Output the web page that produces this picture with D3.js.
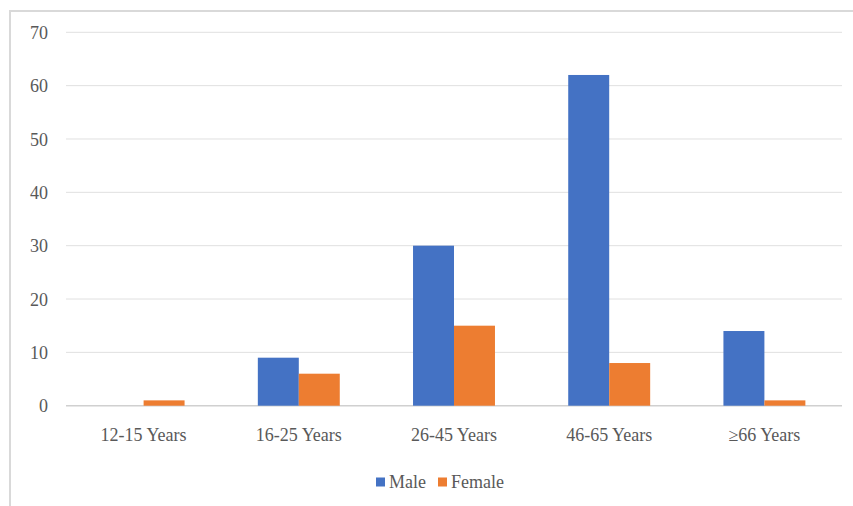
<!DOCTYPE html>
<html>
<head>
<meta charset="utf-8">
<script src="https://cdn.jsdelivr.net/npm/d3@7"></script>
<style>
  html, body { margin: 0; padding: 0; background: #fff; }
  svg { display: block; }
</style>
</head>
<body>
<svg id="chart" width="853" height="506"></svg>
<script>
// Age groups on the x axis
const categories = ["12-15 Years", "16-25 Years", "26-45 Years", "46-65 Years", "\u226566 Years"];
// Counts per sex
const maleValues = [0, 9, 30, 62, 14];
const femaleValues = [1, 6, 15, 8, 1];
const seriesNames = ["Male", "Female"];
const seriesColors = ["#4472C4", "#ED7D31"];
const yTicks = [0, 10, 20, 30, 40, 50, 60, 70];

const series = [maleValues, femaleValues];
const FONT = "'Liberation Serif'";
const TEXT_COLOR = "#595959";
const FONT_SIZE = 18;

const svg = d3.select("#chart");

// Chart area frame
svg.append("rect")
  .attr("x", 10).attr("y", 11)
  .attr("width", 860).attr("height", 520)
  .attr("fill", "none")
  .attr("stroke", "#d9d9d9")
  .attr("stroke-width", 2);

const plot = { left: 66, right: 842, top: 32.3, bottom: 405.7 };

const x0 = d3.scaleBand()
  .domain(categories)
  .range([plot.left, plot.right])
  .padding(0);

const bw = x0.bandwidth();
const groupHalf = bw * 0.264;
const x1 = d3.scaleBand()
  .domain(seriesNames)
  .range([bw / 2 - groupHalf, bw / 2 + groupHalf])
  .padding(0);

const y = d3.scaleLinear()
  .domain([0, 70])
  .range([plot.bottom, plot.top]);

// Horizontal gridlines
svg.append("g")
  .selectAll("line")
  .data(yTicks)
  .join("line")
  .attr("x1", plot.left).attr("x2", plot.right)
  .attr("y1", d => y(d)).attr("y2", d => y(d))
  .attr("stroke", d => d === 0 ? "#d0d0d0" : "#e0e0e0")
  .attr("stroke-width", d => d === 0 ? 1.5 : 1);

// Y axis labels
const yAxis = d3.axisLeft(y).tickValues(yTicks).tickSize(0).tickPadding(0);
const yg = svg.append("g")
  .attr("transform", `translate(48,0)`)
  .call(yAxis);
yg.attr("font-family", null).attr("font-size", null);
yg.select(".domain").remove();
yg.selectAll("text")
  .attr("dy", "0.34em")
  .style("font-family", FONT)
  .style("font-size", FONT_SIZE + "px")
  .style("fill", TEXT_COLOR);

// Bars
const groups = svg.append("g")
  .selectAll("g")
  .data(categories)
  .join("g")
  .attr("transform", d => `translate(${x0(d)},0)`);

groups.selectAll("rect")
  .data((d, i) => series.map((vals, s) => ({ name: seriesNames[s], value: vals[i], color: seriesColors[s] })))
  .join("rect")
  .attr("x", d => x1(d.name))
  .attr("width", x1.bandwidth())
  .attr("y", d => y(d.value))
  .attr("height", d => y(0) - y(d.value))
  .attr("fill", d => d.color);

// X axis labels
const xAxis = d3.axisBottom(x0).tickSize(0).tickPadding(0);
const xg = svg.append("g")
  .attr("transform", `translate(0,${plot.bottom})`)
  .call(xAxis);
xg.attr("font-family", null).attr("font-size", null);
xg.select(".domain").remove();
xg.selectAll("text")
  .attr("y", 35.5)
  .attr("dy", 0)
  .style("font-family", FONT)
  .style("font-size", FONT_SIZE + "px")
  .style("fill", TEXT_COLOR);

// Legend
const legendItems = [
  { name: seriesNames[0], color: seriesColors[0], x: 376 },
  { name: seriesNames[1], color: seriesColors[1], x: 438 }
];
const legend = svg.append("g");
legend.selectAll("rect")
  .data(legendItems)
  .join("rect")
  .attr("x", d => d.x).attr("y", 477.5)
  .attr("width", 9).attr("height", 9)
  .attr("fill", d => d.color);
legend.selectAll("text")
  .data(legendItems)
  .join("text")
  .attr("x", d => d.x + 13)
  .attr("y", 488)
  .style("font-family", FONT)
  .style("font-size", FONT_SIZE + "px")
  .style("fill", TEXT_COLOR)
  .text(d => d.name);
</script>
</body>
</html>
